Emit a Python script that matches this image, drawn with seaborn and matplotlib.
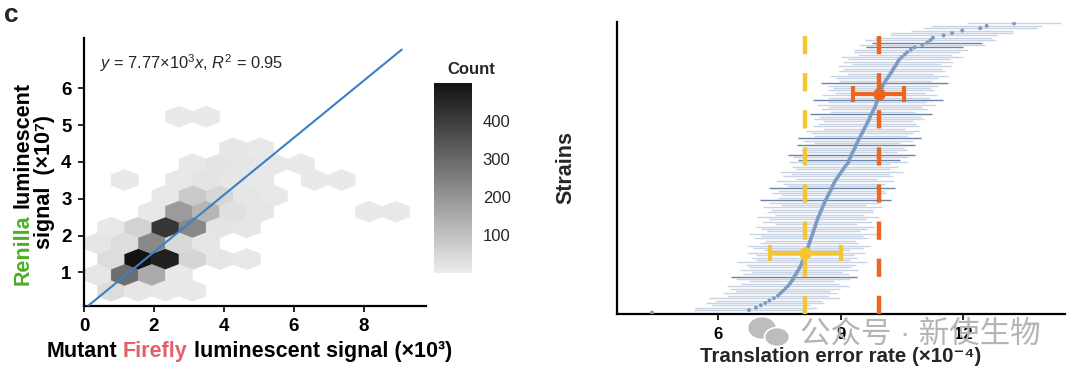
import numpy as np
import pandas as pd
import seaborn as sns
import matplotlib.pyplot as plt
from matplotlib.colors import LinearSegmentedColormap, Normalize
from matplotlib.patches import Ellipse

# ---- left panel: binned luciferase signals (hex cell centres and counts) ----
# x = mutant Firefly signal (x10^3), y = Renilla signal (x10^7)
hex_x = [0.775, 1.55, 2.325, 3.1,
         0.3875, 1.1625, 1.9375, 2.7125,
         0.775, 1.55, 2.325, 3.1, 3.875, 4.65,
         0.3875, 1.1625, 1.9375, 2.7125, 3.4875,
         0.775, 1.55, 2.325, 3.1, 3.875, 4.65,
         1.9375, 2.7125, 3.4875, 4.2625, 5.0375, 8.1375, 8.9125,
         2.325, 3.1, 3.875, 4.65, 5.425,
         1.1625, 2.7125, 3.4875, 4.2625, 5.0375, 6.5875, 7.3625,
         3.1, 3.875, 4.65, 5.425, 6.2,
         4.2625, 5.0375,
         2.7125, 3.4875]
hex_y = [0.50, 0.50, 0.50, 0.50,
         0.93, 0.93, 0.93, 0.93,
         1.36, 1.36, 1.36, 1.36, 1.36, 1.36,
         1.79, 1.79, 1.79, 1.79, 1.79,
         2.22, 2.22, 2.22, 2.22, 2.22, 2.22,
         2.65, 2.65, 2.65, 2.65, 2.65, 2.65, 2.65,
         3.08, 3.08, 3.08, 3.08, 3.08,
         3.51, 3.51, 3.51, 3.51, 3.51, 3.51, 3.51,
         3.94, 3.94, 3.94, 3.94, 3.94,
         4.37, 4.37,
         5.23, 5.23]
hex_count = [35, 15, 10, 10,
             15, 290, 150, 8,
             35, 498, 465, 55, 15, 12,
             15, 35, 225, 45, 15,
             12, 60, 415, 230, 20, 15,
             12, 185, 125, 30, 15, 10, 10,
             12, 80, 50, 18, 12,
             10, 12, 20, 15, 12, 10, 10,
             12, 20, 15, 12, 10,
             15, 12,
             10, 10]
count_ticks = [100, 200, 300, 400]

fit_slope = 0.777      # y = 7.77x10^3 x, in axis units
fit_x_end = 9.08

# ---- right panel: translation error rate per strain (x10^-4), sorted ----
err_rate = [
    4.37, 6.75, 6.92, 7.04, 7.15, 7.25, 7.36, 7.46, 7.52, 7.58,
    7.64, 7.70, 7.75, 7.79, 7.83, 7.86, 7.90, 7.93, 7.97, 8.00,
    8.03, 8.05, 8.08, 8.10, 8.13, 8.15, 8.17, 8.19, 8.21, 8.23,
    8.25, 8.27, 8.29, 8.31, 8.33, 8.35, 8.37, 8.39, 8.41, 8.43,
    8.45, 8.48, 8.50, 8.53, 8.55, 8.58, 8.60, 8.63, 8.66, 8.69,
    8.72, 8.75, 8.78, 8.80, 8.83, 8.86, 8.90, 8.94, 8.98, 9.02,
    9.06, 9.10, 9.15, 9.19, 9.21, 9.24, 9.26, 9.29, 9.32, 9.35,
    9.37, 9.40, 9.43, 9.46, 9.49, 9.52, 9.55, 9.58, 9.61, 9.64,
    9.67, 9.70, 9.72, 9.75, 9.78, 9.81, 9.84, 9.86, 9.88, 9.91,
    9.93, 9.95, 9.97, 9.99, 10.01, 10.03, 10.07, 10.10, 10.14, 10.18,
    10.22, 10.26, 10.29, 10.33, 10.37, 10.40, 10.44, 10.50, 10.57, 10.63,
    10.72, 10.81, 11.00, 11.12, 11.20, 11.26, 11.52, 11.73, 11.98, 12.42,
    12.58, 13.25]
err_half = [
    0.00, 1.35, 1.50, 1.20, 1.45, 1.30, 1.60, 1.25, 1.40, 1.15,
    1.35, 1.50, 1.20, 1.05, 1.40, 1.55, 1.30, 1.10, 1.45, 1.25,
    1.35, 1.60, 1.15, 1.30, 1.20, 1.45, 1.05, 1.35, 1.50, 1.20,
    1.10, 1.40, 1.25, 1.55, 1.15, 1.30, 1.45, 1.00, 1.35, 1.20,
    1.50, 1.10, 1.30, 1.25, 1.45, 1.05, 1.35, 1.60, 1.20, 1.15,
    1.40, 1.30, 1.55, 1.10, 1.25, 1.45, 1.00, 1.35, 1.20, 1.50,
    1.15, 1.30, 1.05, 1.45, 1.25, 1.40, 1.55, 1.10, 1.30, 1.20,
    1.45, 1.05, 1.35, 1.50, 1.15, 1.25, 1.40, 1.00, 1.30, 1.20,
    1.10, 1.35, 1.25, 1.50, 1.05, 1.30, 1.15, 1.45, 1.20, 1.60,
    1.25, 1.40, 1.10, 1.30, 1.20, 1.35, 1.55, 1.15, 1.25, 1.45,
    1.05, 1.30, 1.20, 1.40, 1.10, 1.35, 1.25, 1.50, 1.15, 1.30,
    1.40, 1.20, 1.55, 1.35, 1.60, 1.45, 1.30, 1.50, 1.25, 1.40,
    1.35, 1.15]
dark_ranks = [16, 48, 53, 65, 67, 71, 74, 84, 90, 97, 112, 114]

ref_rate = [8.13, 9.93]
ref_err = [0.87, 0.63]
ref_rank = [26.0, 92.3]
ref_colors = ["#F4C631", "#EE661E"]

W, H = 1080, 379


def fx(px):
    return px / W


def fy(py):
    return 1 - py / H


# Text made of differently coloured pieces, centred on cx (pixels) along the baseline
def pieces_text(fig, pieces, cx, base, rotation=0, **kw):
    r = fig.canvas.get_renderer()

    def width(s):
        t = fig.text(0, 0, s, **kw)
        w = t.get_window_extent(r).width
        t.remove()
        return w

    bar = width("|")
    total = width("".join(s for s, _ in pieces) + "|") - bar
    prefix = ""
    for s, c in pieces:
        lead = s[:len(s) - len(s.lstrip())]
        off = width(prefix + lead + "|") - bar if (prefix + lead) else 0
        pos = -total / 2 + off
        if rotation == 0:
            fig.text(fx(cx + pos), fy(base), s.strip(), color=c, ha="left",
                     va="baseline", **kw)
        else:
            fig.text(fx(base), fy(cx - pos), s.strip(), color=c, ha="left",
                     va="baseline", rotation=90, rotation_mode="anchor", **kw)
        prefix += s


sns.set_style("ticks")
plt.rcParams["font.family"] = ["Liberation Sans", "DejaVu Sans", "Noto Sans CJK SC"]
plt.rcParams["mathtext.fontset"] = "custom"
plt.rcParams["mathtext.rm"] = "Liberation Sans"
plt.rcParams["mathtext.it"] = "Liberation Sans:italic"
plt.rcParams["mathtext.bf"] = "Liberation Sans:bold"

fig = plt.figure(figsize=(W / 100, H / 100), dpi=100)

# ---------------- left: hexbin ----------------
ax1 = fig.add_axes([fx(84), fy(305.5), (426 - 84) / W, (305.5 - 38.3) / H])
HEX_W, ROW_H, Y0 = 0.775, 0.86, -0.36
cmap = LinearSegmentedColormap.from_list("cnt", ["#ececec", "#131111"])
norm = Normalize(vmin=1, vmax=498)
hb = ax1.hexbin(hex_x, hex_y, C=hex_count, reduce_C_function=np.sum,
                gridsize=(13, 8), extent=(0, 13 * HEX_W, Y0, Y0 + 8 * ROW_H),
                cmap=cmap, norm=norm, linewidths=0.3, edgecolors="face")

fit_x = np.array([0, fit_x_end])
ax1.plot(fit_x, fit_slope * fit_x, color="#3b7fc6", lw=1.5, zorder=3)

ax1.set_xlim(0, 9.77)
ax1.set_ylim(0.1, 7.36)
ax1.set_xticks([0, 2, 4, 6, 8])
ax1.set_yticks([1, 2, 3, 4, 5, 6])
ax1.tick_params(length=4, width=1.2, pad=5, labelsize=13.5, color="black",
                labelcolor="black")
ax1.text(fx(100), fy(63), r"$y$ = 7.77×10$^3$$x$, $R^2$ = 0.95", fontsize=11.8,
         transform=fig.transFigure, va="center", ha="left")

# colorbar
cax = fig.add_axes([fx(434), fy(272.7), 37.7 / W, 189.4 / H])
cb = fig.colorbar(hb, cax=cax, ticks=count_ticks)
cb.outline.set_visible(False)
cax.tick_params(which="major", direction="in", length=7, width=1, color="white",
                left=True, right=True, labelleft=False, labelright=True,
                labelsize=12, pad=8)
cax.minorticks_off()
fig.text(fx(447), fy(69), "Count", fontsize=12, weight="bold", va="center")

# ---------------- right: error rates ----------------
ax2 = fig.add_axes([fx(616.5), fy(314), (1065 - 616.5) / W, (314 - 22.3) / H])
df = pd.DataFrame({"rate": err_rate, "half": err_half})
df["rank"] = np.arange(1, len(df) + 1)
df["dark"] = df["rank"].isin(dark_ranks)
light = df[~df["dark"] & (df["half"] > 0)]
dark = df[df["dark"]]
ax2.hlines(light["rank"], light["rate"] - light["half"], light["rate"] + light["half"],
           color="#9bb0cc", alpha=0.55, lw=1.0, zorder=1)
ax2.hlines(dark["rank"], dark["rate"] - dark["half"], dark["rate"] + dark["half"],
           color="#4f709d", alpha=0.85, lw=1.0, zorder=2)
sns.scatterplot(data=df, x="rate", y="rank", ax=ax2, s=8, color="#7b9bc3",
                edgecolor="none", zorder=3, legend=False)

for x, e, rk, c in zip(ref_rate, ref_err, ref_rank, ref_colors):
    ax2.axvline(x, ymin=0, ymax=0.963, color=c, lw=3.2, ls=(0, (4.1, 4.25)), zorder=4)
    ax2.errorbar([x], [rk], xerr=[e], fmt="o", color=c, ms=8, elinewidth=3,
                 capsize=6, capthick=3, zorder=5)

ax2.set_xlim(3.5, 14.5)
ax2.set_ylim(0.37, 122.5)
ax2.set_xticks([6, 9, 12])
ax2.set_yticks([])
ax2.set_xlabel("")
ax2.set_ylabel("")
ax2.tick_params(axis="x", length=4, width=1.2, pad=5.5, labelsize=12, color="black",
                labelcolor="black")

for ax in (ax1, ax2):
    sns.despine(ax=ax)
    for side in ("left", "bottom"):
        ax.spines[side].set_linewidth(1.6)
        ax.spines[side].set_color("black")
    for lab in ax.get_xticklabels() + ax.get_yticklabels():
        lab.set_fontweight("bold")

# ---------------- labels ----------------
fig.text(fx(4), fy(22.5), "c", fontsize=19, weight="bold", va="baseline")

lab_kw = dict(fontsize=15.5, weight="bold")
pieces_text(fig, [("Mutant ", "black"), ("Firefly", "#E2626B"),
                  (" luminescent signal (×10³)", "black")], 249, 357.2, **lab_kw)
pieces_text(fig, [("Renilla ", "#4CAF27"), ("luminescent", "black")], 183.3, 28.3,
            rotation=90, **lab_kw)
pieces_text(fig, [("signal  (×10⁷)", "black")], 182, 50, rotation=90, **lab_kw)

fig.text(fx(566), fy(168), "Strains", fontsize=15.5, weight="bold", rotation=90,
         ha="center", va="center")
fig.text(fx(841), fy(357), "Translation error rate (×10⁻⁴)", fontsize=14.8,
         weight="bold", ha="center", va="center")

# watermark (chat icon + account name)
for (cx, cy, w, h) in [(762, 328, 29, 23), (777, 337, 25, 19)]:
    fig.add_artist(Ellipse((fx(cx), fy(cy)), w / W, h / H, transform=fig.transFigure,
                           facecolor="#bdbdbd", edgecolor="white", lw=1.2, zorder=10))
fig.text(fx(800), fy(335), "公众号 · 新使生物", fontsize=22, color="#b4b4b4",
         ha="left", va="center", zorder=10)

fig.savefig("out.png", dpi=100)
